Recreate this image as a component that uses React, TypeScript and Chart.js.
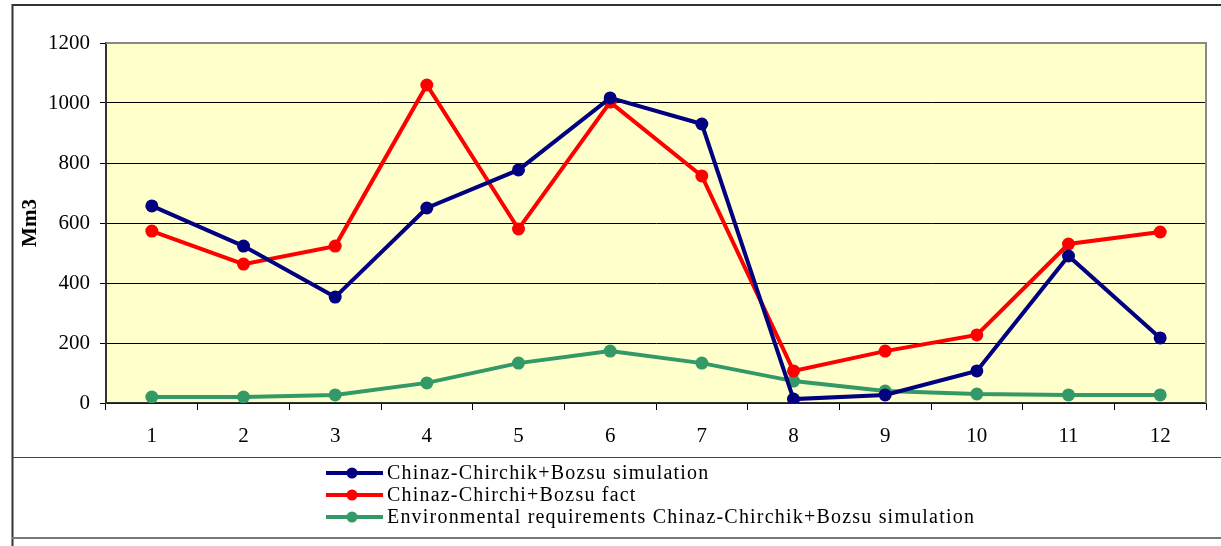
import React, { useEffect, useRef } from "react";
import { Chart, registerables } from "chart.js";

Chart.register(...registerables);

const months = ["1", "2", "3", "4", "5", "6", "7", "8", "9", "10", "11", "12"];
const simulation = [657, 523, 353, 650, 777, 1017, 930, 13, 27, 107, 490, 217];
const fact = [573, 463, 523, 1060, 580, 1003, 757, 107, 173, 227, 530, 570];
const environmental = [20, 20, 27, 67, 133, 173, 133, 73, 40, 30, 27, 27];
const seriesLabels = [
  "Chinaz-Chirchik+Bozsu simulation",
  "Chinaz-Chirchi+Bozsu fact",
  "Environmental requirements Chinaz-Chirchik+Bozsu simulation",
];
const seriesColors = ["#000080", "#FF0000", "#339966"];
const yTicks = [0, 200, 400, 600, 800, 1000, 1200];

const FONT = "'Liberation Serif', 'Times New Roman', serif";

const framePlugin = {
  id: "frame",
  beforeDraw(chart: any) {
    const { ctx, chartArea } = chart;
    ctx.save();
    ctx.fillStyle = "#FFFFCC";
    ctx.fillRect(chartArea.left, chartArea.top, chartArea.right - chartArea.left, chartArea.bottom - chartArea.top);
    ctx.restore();
  },
  afterDraw(chart: any) {
    const { ctx, chartArea } = chart;
    ctx.save();
    // outer frame
    ctx.strokeStyle = "#333333";
    ctx.lineWidth = 2;
    ctx.beginPath();
    ctx.moveTo(1221, 5);
    ctx.lineTo(12.5, 5);
    ctx.lineTo(12.5, 546);
    ctx.stroke();
    // separator and bottom line
    ctx.lineWidth = 1.2;
    ctx.strokeStyle = "#444444";
    ctx.beginPath();
    ctx.moveTo(12, 457.5);
    ctx.lineTo(1221, 457.5);
    ctx.stroke();
    ctx.strokeStyle = "#777777";
    ctx.lineWidth = 2;
    ctx.beginPath();
    ctx.moveTo(12, 538);
    ctx.lineTo(1221, 538);
    ctx.stroke();
    // plot border top/right
    ctx.strokeStyle = "#888888";
    ctx.lineWidth = 2;
    ctx.beginPath();
    ctx.moveTo(chartArea.left, chartArea.top);
    ctx.lineTo(chartArea.right, chartArea.top);
    ctx.lineTo(chartArea.right, chartArea.bottom);
    ctx.stroke();
    // legend
    const rows = [473, 495, 517];
    chart.data.datasets.forEach((ds: any, i: number) => {
      const y = rows[i];
      ctx.strokeStyle = ds.borderColor;
      ctx.lineWidth = 4;
      ctx.beginPath();
      ctx.moveTo(326, y);
      ctx.lineTo(383, y);
      ctx.stroke();
      ctx.fillStyle = ds.backgroundColor;
      ctx.beginPath();
      ctx.arc(352, y, 5.5, 0, Math.PI * 2);
      ctx.fill();
      ctx.fillStyle = "#000000";
      ctx.font = `20px ${FONT}`;
      (ctx as any).letterSpacing = "1.2px";
      ctx.textBaseline = "middle";
      ctx.textAlign = "left";
      ctx.fillText(ds.label, 387, y + 1);
      (ctx as any).letterSpacing = "0px";
    });
    ctx.restore();
  },
};

export default function App() {
  const ref = useRef<HTMLCanvasElement>(null);
  useEffect(() => {
    if (!ref.current) return;
    const data = [simulation, fact, environmental];
    const chart = new Chart(ref.current, {
      type: "line",
      data: {
        labels: months,
        datasets: data.map((d, i) => ({
          label: seriesLabels[i],
          data: d,
          borderColor: seriesColors[i],
          backgroundColor: seriesColors[i],
          borderWidth: 4,
          pointRadius: 6.5,
          pointBorderWidth: 0,
          pointBackgroundColor: seriesColors[i],
          tension: 0,
        })),
      },
      options: {
        responsive: false,
        animation: false,
        layout: { padding: { left: 0, top: 43, right: 15, bottom: 0 } },
        plugins: { legend: { display: false }, tooltip: { enabled: false } },
        scales: {
          x: {
            offset: true,
            grid: {
              offset: true,
              drawOnChartArea: false,
              tickLength: 7,
              color: "#000000",
              lineWidth: 1,
            },
            border: { color: "#333333", width: 1.5 },
            ticks: {
              color: "#000000",
              font: { family: FONT, size: 21 },
              padding: 14,
            },
            afterFit(scale: any) {
              scale.height = 143;
            },
          },
          y: {
            min: 0,
            max: 1200,
            afterBuildTicks(scale: any) {
              scale.ticks = yTicks.map((v) => ({ value: v }));
            },
            grid: {
              color: "#000000",
              lineWidth: 1,
              tickLength: 6,
            },
            border: { color: "#333333", width: 2 },
            ticks: {
              color: "#000000",
              font: { family: FONT, size: 21 },
              padding: 10,
              callback: (v: any) => String(v),
            },
            title: {
              display: true,
              text: "Mm3",
              color: "#000000",
              font: { family: FONT, size: 21, weight: "bold" },
              padding: { top: 18, bottom: 0 },
            },
            afterFit(scale: any) {
              scale.width = 106;
            },
          },
        },
      },
      plugins: [framePlugin],
    });
    return () => chart.destroy();
  }, []);
  return (
    <div style={{ position: "absolute", left: 0, top: 0, width: 1221, height: 546, background: "#fff" }}>
      <canvas ref={ref} width={1221} height={546} style={{ display: "block" }} />
    </div>
  );
}
